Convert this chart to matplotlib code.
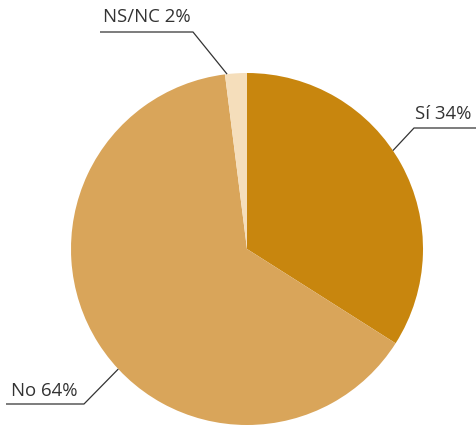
import numpy as np
import matplotlib.pyplot as plt

labels = ["Sí", "No", "NS/NC"]
values = [34, 64, 2]
colors = ["#C8860E", "#D9A55A", "#F5DEBB"]

W, H = 477, 425
cx, cy, r = 247, H - 249, 176

# leader line layout (pixel coords, y from top): anchor angle on rim, elbow, end of shelf, text pos
anchor_deg = [34, -137, 96.5]
elbows = [(414, 128), (84, 404), (193, 32)]
shelf_end = [477, 6, 100]
text_pos = [(415, 119), (11, 396), (103, 22)]

plt.rcParams['font.family'] = ['Open Sans', 'DejaVu Sans']

fig = plt.figure(figsize=(W / 100, H / 100), dpi=100)
ax = fig.add_axes([0, 0, 1, 1])

ax.pie(values, colors=colors, startangle=90, counterclock=False,
       center=(cx, cy), radius=r, frame=True,
       wedgeprops=dict(linewidth=0, antialiased=True))
ax.set_xlim(0, W)
ax.set_ylim(0, H)
ax.set_aspect('equal')
ax.axis('off')

for lab, v, a, el, se, tp in zip(labels, values, anchor_deg, elbows, shelf_end, text_pos):
    ar = np.deg2rad(a)
    x0 = cx + r * np.cos(ar)
    y0 = cy + r * np.sin(ar)
    ax.plot([x0, el[0], se], [y0, H - el[1], H - el[1]], color='#333333', lw=0.9,
            solid_capstyle='butt')
    ax.text(tp[0], H - tp[1], f"{lab} {v}%", fontsize=13.4, color='#333333',
            ha='left', va='baseline')

fig.savefig("out.png", dpi=100)
